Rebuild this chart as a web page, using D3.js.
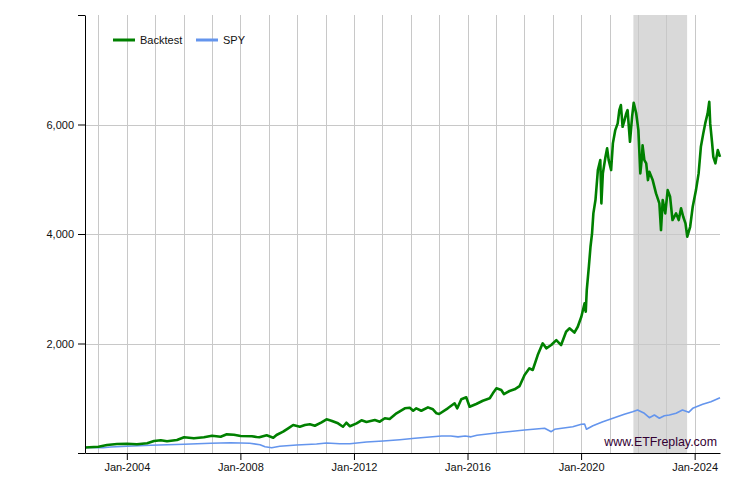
<!DOCTYPE html>
<html>
<head>
<meta charset="utf-8">
<script src="https://cdn.jsdelivr.net/npm/d3@7"></script>
<style>
  html, body { margin: 0; padding: 0; background: #fff; }
  svg { display: block; font-family: "Liberation Sans", Arial, sans-serif; }
</style>
</head>
<body>
<svg id="chart" width="750" height="500"></svg>
<script>
// ---------- data ----------
const backtestDates = [
  "2002-07-12","2003-01-01","2003-04-21","2003-08-28","2004-01-04","2004-05-10","2004-09-19","2004-12-16",
  "2005-03-13","2005-06-01","2005-10-07","2006-01-07","2006-05-13","2006-09-19","2007-01-01","2007-04-22",
  "2007-07-10","2007-10-10","2008-01-04","2008-05-28","2008-07-28","2008-09-01","2008-12-04","2009-02-27",
  "2009-04-10","2009-07-04","2009-09-07","2009-11-10","2010-02-04","2010-04-10","2010-06-13","2010-08-16",
  "2010-11-10","2011-01-13","2011-03-16","2011-06-10","2011-08-13","2011-09-25","2011-11-10","2012-02-04",
  "2012-04-07","2012-06-10","2012-09-25","2012-11-28","2013-02-01","2013-04-04","2013-07-01","2013-10-16",
  "2013-12-19","2014-02-01","2014-03-13","2014-05-16","2014-08-10","2014-10-13","2014-11-28","2015-01-01",
  "2015-04-22","2015-07-19","2015-08-22","2015-10-13","2015-12-16","2016-01-28","2016-04-22","2016-07-16",
  "2016-10-13","2016-11-22","2017-01-07","2017-03-10","2017-04-13","2017-06-25","2017-08-28","2017-11-01",
  "2018-01-04","2018-03-07","2018-04-19","2018-06-22","2018-08-25","2018-10-10","2018-12-13","2019-02-16",
  "2019-04-19","2019-06-22","2019-08-04","2019-10-07","2019-11-19","2020-01-04","2020-02-15","2020-03-01",
  "2020-03-14","2020-04-10","2020-05-01","2020-05-21","2020-06-07","2020-07-04","2020-08-04","2020-09-04",
  "2020-09-18","2020-10-07","2020-11-10","2020-12-01","2020-12-21","2021-01-21","2021-02-13","2021-03-16",
  "2021-04-16","2021-05-07","2021-05-27","2021-06-18","2021-07-13","2021-08-04","2021-08-21","2021-09-21",
  "2021-10-18","2021-11-08","2021-12-10","2022-01-07","2022-02-01","2022-02-22","2022-03-02","2022-03-25",
  "2022-04-18","2022-05-10","2022-05-28","2022-07-10","2022-08-22","2022-10-04","2022-10-25","2022-11-16",
  "2022-12-19","2023-01-19","2023-02-19","2023-03-22","2023-05-07","2023-06-10","2023-07-10","2023-08-07",
  "2023-09-05","2023-09-28","2023-11-04","2023-12-07","2024-01-18","2024-02-21","2024-03-21","2024-04-21",
  "2024-05-16","2024-06-16","2024-07-07","2024-07-19","2024-08-13","2024-08-28","2024-09-24","2024-10-25",
  "2024-11-22"
];
const backtestValues = [
  100,115,146,164,170,159,177,219,
  232,214,237,287,268,287,316,298,
  341,334,310,305,292,287,323,279,
  329,389,451,511,480,511,524,498,
  561,615,590,542,480,553,488,542,
  597,566,603,572,634,621,725,816,
  827,772,816,772,834,798,725,712,
  816,908,816,981,1017,845,895,955,
  999,1090,1181,1150,1077,1132,1163,1223,
  1424,1547,1516,1789,2003,1912,1972,2063,
  1972,2215,2277,2200,2306,2489,2734,2580,
  2976,3402,3767,4012,4377,4620,5168,5350,
  4560,5107,5410,5564,5350,5168,5655,5898,
  6020,6263,6355,5958,6081,6203,6263,5684,
  6141,6397,6203,5898,5107,5410,5620,5350,
  5290,4985,5137,4985,4742,4560,4072,4620,
  4377,4802,4680,4255,4377,4255,4468,4315,
  4194,3950,4132,4497,4802,5107,5593,5838,
  6020,6203,6415,6020,5655,5410,5290,5533,
  5410
];
const spyDates = [
  "2002-07-12","2003-03-01","2003-06-07","2004-01-04","2004-11-04","2006-01-07","2006-12-15","2007-08-28",
  "2008-01-04","2008-05-01","2008-09-10","2008-11-13","2009-02-07","2009-05-22","2009-12-25","2010-09-07",
  "2011-01-13","2011-07-01","2011-11-10","2012-06-10","2013-01-10","2013-08-13","2014-02-22","2015-02-01",
  "2015-06-01","2015-09-01","2015-12-01","2016-02-15","2016-05-01","2017-01-28","2018-01-04","2018-09-19",
  "2018-12-13","2019-01-25","2019-09-16","2020-01-04","2020-02-15","2020-03-10","2020-06-01","2020-10-07",
  "2021-02-13","2021-07-10","2021-10-25","2021-12-28","2022-03-25","2022-05-28","2022-08-01","2022-10-04",
  "2022-12-07","2023-02-10","2023-05-07","2023-07-28","2023-10-16","2023-12-07","2024-04-13","2024-07-28",
  "2024-11-22"
];
const spyValues = [
  100,97,110,122,141,159,177,188,
  183,177,152,115,97,122,146,164,
  183,170,170,201,219,243,268,310,
  310,295,310,295,323,371,420,451,
  389,433,480,524,530,433,498,572,
  634,707,754,785,725,645,694,634,
  681,694,725,785,743,816,889,937,
  1010
];
const seriesNames = ["Backtest", "SPY"];
const seriesColors = ["#008000", "#6495ED"];
const drawdownPeriod = ["2021-11-04", "2023-09-26"];
const xTickDates = ["2004-01-01","2008-01-01","2012-01-01","2016-01-01","2020-01-01","2024-01-01"];
const yTickValues = [0, 2000, 4000, 6000, 8000];
const yLabelValues = [2000, 4000, 6000];
const watermark = "www.ETFreplay.com";

// ---------- layout ----------
const parse = d3.timeParse("%Y-%m-%d");
const svg = d3.select("#chart");
const plotLeft = 85, plotRight = 720, plotTop = 15, plotBottom = 453;

const x = d3.scaleTime()
  .domain([parse(backtestDates[0]), parse(backtestDates[backtestDates.length - 1])])
  .range([plotLeft, plotRight]);
const y = d3.scaleLinear().domain([0, 8000]).range([plotBottom, plotTop]);

// drawdown shading
svg.append("rect")
  .attr("x", x(parse(drawdownPeriod[0])))
  .attr("y", plotTop)
  .attr("width", x(parse(drawdownPeriod[1])) - x(parse(drawdownPeriod[0])))
  .attr("height", plotBottom - plotTop)
  .attr("fill", "#d9d9d9");

// grid: vertical every year
const years = d3.timeYear.range(d3.timeYear.ceil(x.domain()[0]), x.domain()[1]);
svg.append("g").selectAll("line").data(years).join("line")
  .attr("x1", d => Math.round(x(d)) + 0.5).attr("x2", d => Math.round(x(d)) + 0.5)
  .attr("y1", plotTop).attr("y2", plotBottom)
  .attr("stroke", "#c8c8c8").attr("stroke-width", 1);
// grid: horizontal
svg.append("g").selectAll("line").data(yLabelValues).join("line")
  .attr("x1", plotLeft).attr("x2", plotRight)
  .attr("y1", d => Math.round(y(d)) + 0.5).attr("y2", d => Math.round(y(d)) + 0.5)
  .attr("stroke", "#c8c8c8").attr("stroke-width", 1);

// lines
const lineGen = d3.line().x(d => x(d[0])).y(d => y(d[1]));
const spyData = spyDates.map((d, i) => [parse(d), spyValues[i]]);
const btData = backtestDates.map((d, i) => [parse(d), backtestValues[i]]);
svg.append("path").datum(spyData).attr("d", lineGen)
  .attr("fill", "none").attr("stroke", seriesColors[1]).attr("stroke-width", 1.6)
  .attr("stroke-linejoin", "round");
svg.append("path").datum(btData).attr("d", lineGen)
  .attr("fill", "none").attr("stroke", seriesColors[0]).attr("stroke-width", 2.6)
  .attr("stroke-linejoin", "round");

// axes
const xAxis = d3.axisBottom(x)
  .tickValues(xTickDates.map(parse))
  .tickFormat(d3.timeFormat("%b-%Y"))
  .tickSize(7).tickSizeOuter(0).tickPadding(3);
const gx = svg.append("g").attr("transform", `translate(0,${plotBottom})`).call(xAxis);
const yAxis = d3.axisLeft(y)
  .tickValues(yTickValues)
  .tickFormat(d => yLabelValues.includes(d) ? d3.format(",")(d) : "")
  .tickSize(7).tickSizeOuter(0).tickPadding(4);
const gy = svg.append("g").attr("transform", `translate(${plotLeft},0)`).call(yAxis);
[gx, gy].forEach(g => {
  g.selectAll("path, line").attr("stroke", "#000");
  g.selectAll("text").attr("fill", "#111").style("font-size", "11px")
    .style("font-family", "'Liberation Sans', Arial, sans-serif");
});

// legend
const legend = svg.append("g");
const legendX = [113, 196];
seriesNames.forEach((name, i) => {
  legend.append("line")
    .attr("x1", legendX[i]).attr("x2", legendX[i] + 22)
    .attr("y1", 40).attr("y2", 40)
    .attr("stroke", seriesColors[i]).attr("stroke-width", 3);
  legend.append("text")
    .attr("x", legendX[i] + 27).attr("y", 44)
    .attr("fill", "#111").style("font-size", "11px")
    .text(name);
});

// watermark
svg.append("text")
  .attr("x", 717).attr("y", 446)
  .attr("text-anchor", "end")
  .attr("fill", "#330033")
  .style("font-size", "12.4px")
  .text(watermark);
</script>
</body>
</html>
